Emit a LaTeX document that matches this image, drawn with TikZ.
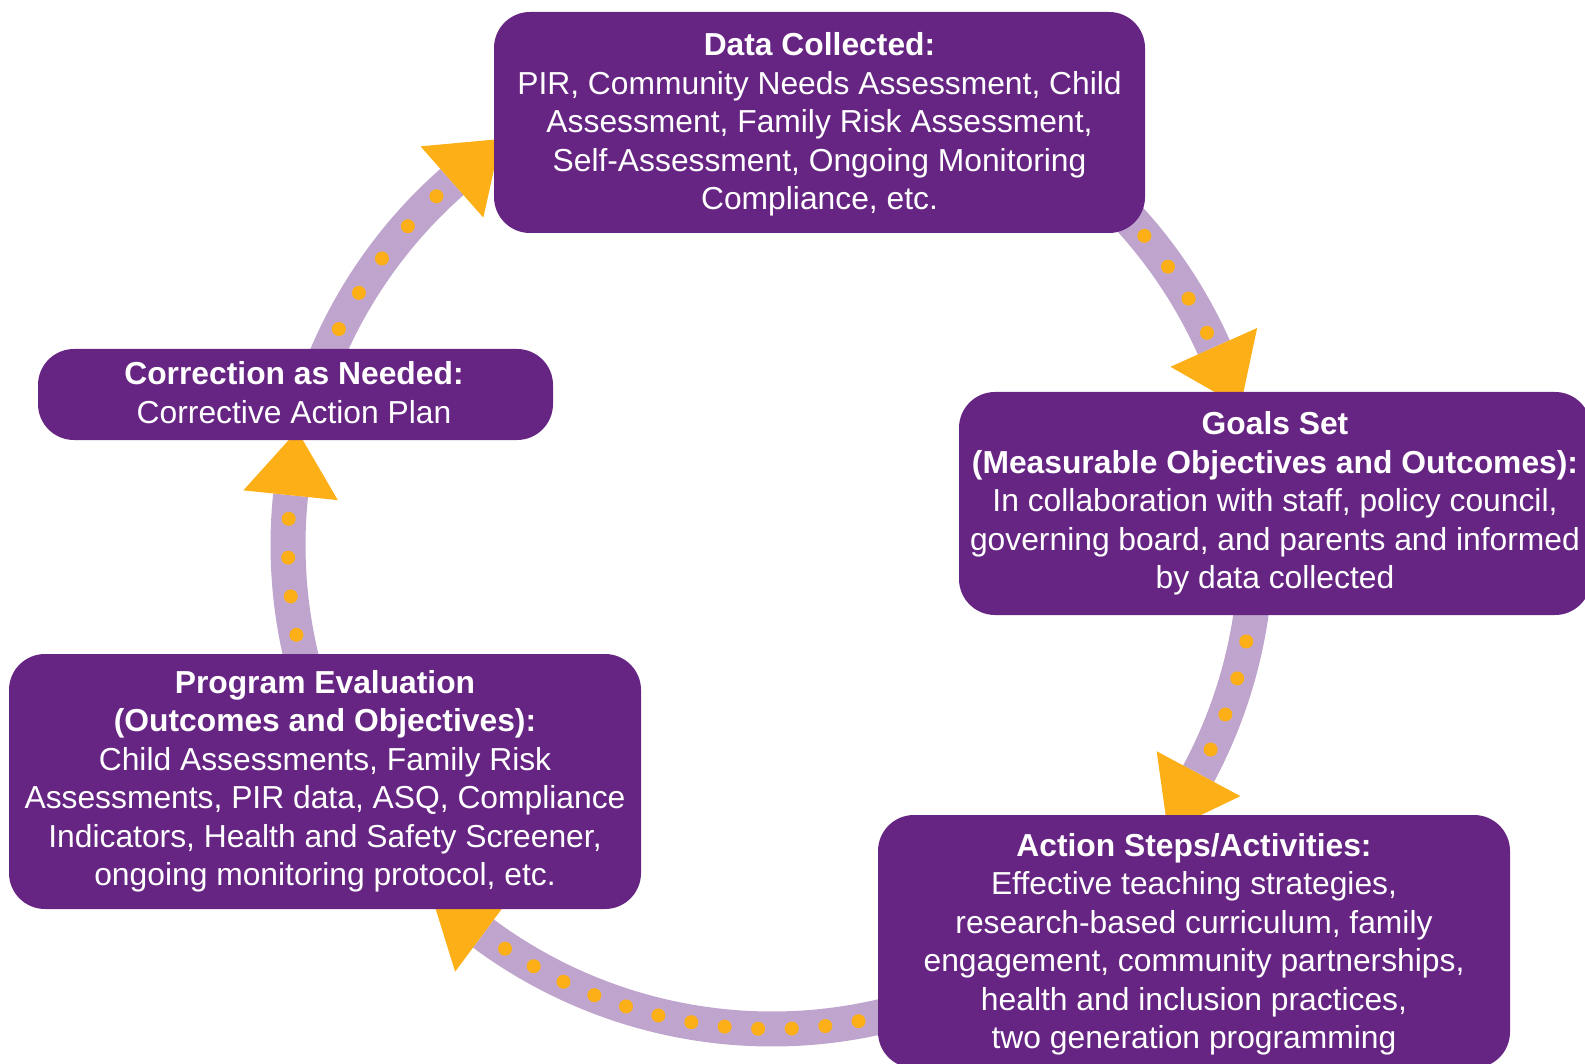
\documentclass[tikz,border=0pt]{standalone}
\usepackage{fontspec}
\setmainfont{Liberation Sans}
\usetikzlibrary{calc}
\definecolor{boxpurple}{RGB}{102,36,131}
\definecolor{bandlav}{RGB}{191,165,205}
\definecolor{dotorange}{RGB}{252,175,23}
\tikzset{
  box/.style={fill=boxpurple, rounded corners=36pt, inner sep=0pt, text=white,
    align=center, font=\fontsize{31.8}{38.5}\selectfont},
  band/.style={draw=bandlav, line width=35pt},
  dotfill/.style={fill=dotorange},
  headfill/.style={fill=dotorange},
}
\newcommand{\cycarrow}[3]{% start angle, base angle, dot list
  \draw[band] ($(c)+(#1:484)$) arc[start angle=#1, end angle=#2, radius=484];
  \foreach \a in {#3} \fill[dotfill] ($(c)+(\a:484)$) circle[radius=7];
  \fill[headfill] ($(c)+(#2:531.5)$) -- ($(c)+(#2:484)+(#2+90:65)$) -- ($(c)+(#2:436.5)$) -- cycle;
}
\begin{document}
\begin{tikzpicture}[x=1pt,y=-1pt]
\useasboundingbox (0,0) rectangle (1585,1064);
\coordinate (c) at (772,545);
% arrows (drawn below boxes)
\cycarrow{200}{228.6}{206.5,211.4,216.3,221.2,226.1}
\cycarrow{312}{335.9}{315.7,320.3,324.9,329.4,334}
\cycarrow{5}{28.2}{11.5,16,20.5,25}
\cycarrow{70}{126.6}{79.7,83.68,87.66,91.64,95.62,99.6,103.58,107.56,111.54,115.52,119.5,123.48}
\cycarrow{160}{185.9}{169.3,173.9,178.5,183.1}
% boxes
\node[box, minimum width=651pt, minimum height=221pt] (data) at (819.5,122.5) {};
\node[text=white, align=center, font=\fontsize{31.8}{38.5}\selectfont, inner sep=0pt] (datatxt) at (819.5,124.5)
 {\textbf{Data Collected:}\\PIR, Community Needs Assessment, Child\\Assessment, Family Risk Assessment,\\Self-Assessment, Ongoing Monitoring\\Compliance, etc.};
\node[box, minimum width=515pt, minimum height=91pt] (corr) at (295.5,394.5) {};
\node[text=white, align=center, font=\fontsize{31.8}{38.5}\selectfont, inner sep=0pt] (corrtxt) at (294,392.5)
 {\textbf{Correction as Needed:}\\Corrective Action Plan};
\node[box, minimum width=632pt, minimum height=223pt] (goals) at (1275,503.5)
 {\textbf{Goals Set}\\\textbf{(Measurable Objectives and Outcomes):}\\In collaboration with staff, policy council,\\governing board, and parents and informed\\by data collected};
\node[box, minimum width=632pt, minimum height=255pt] (prog) at (325,781.5)
 {\textbf{Program Evaluation}\\\textbf{(Outcomes and Objectives):}\\Child Assessments, Family Risk\\Assessments, PIR data, ASQ, Compliance\\Indicators, Health and Safety Screener,\\ongoing monitoring protocol, etc.};
\node[box, minimum width=632pt, minimum height=253pt] (act) at (1194,941.5) {};
\node[text=white, align=center, font=\fontsize{31.8}{38.5}\selectfont, inner sep=0pt] (acttxt) at (1194,944.5)
 {\textbf{Action Steps/Activities:}\\Effective teaching strategies,\\research-based curriculum, family\\engagement, community partnerships,\\health and inclusion practices,\\two generation programming};
\end{tikzpicture}
\end{document}
